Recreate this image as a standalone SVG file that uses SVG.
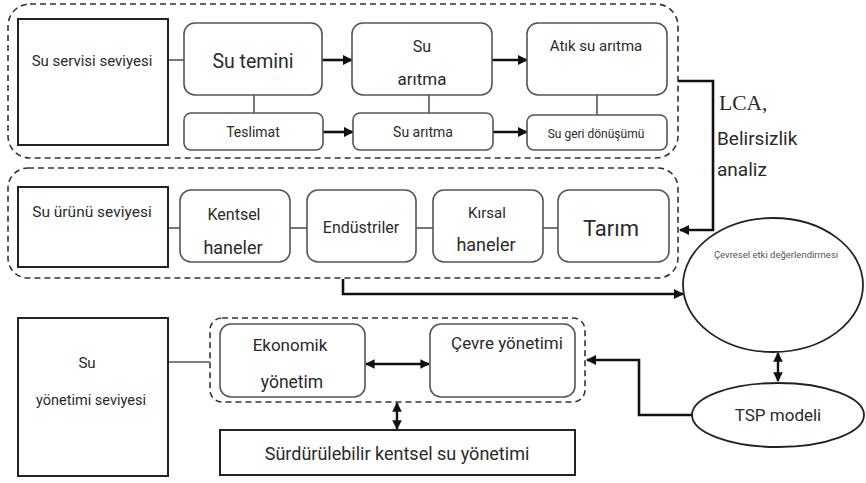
<svg xmlns="http://www.w3.org/2000/svg" width="866" height="483" viewBox="0 0 866 483">
  <defs>
    <marker id="head" viewBox="0 0 10 10" refX="9" refY="5" markerWidth="4" markerHeight="4" orient="auto-start-reverse" markerUnits="strokeWidth">
      <path d="M0,0 L10,5 L0,10 z" fill="#111"/>
    </marker>
    <style>
      .level { fill: #fff; stroke: #222; stroke-width: 2; }
      .box { fill: #fff; stroke: #555; stroke-width: 1.6; }
      .group { fill: none; stroke: #333; stroke-width: 1.6; stroke-dasharray: 6 4; }
      .ell { fill: #fff; stroke: #222; stroke-width: 1.8; }
      .link { fill: none; stroke: #555; stroke-width: 1.6; }
      .flow { fill: none; stroke: #111; stroke-width: 2.6; marker-end: url(#head); }
      .both { fill: none; stroke: #111; stroke-width: 2.4; marker-start: url(#head); marker-end: url(#head); }
      text { font-family: Roboto, "Liberation Sans", sans-serif; fill: #2a2a2a; text-anchor: middle; }
      .serif { font-family: "Liberation Serif", "DejaVu Serif", serif; text-anchor: start; }
      .left { text-anchor: start; }
    </style>
  </defs>

  <!-- dashed level groups -->
  <rect class="group" x="8" y="4" width="670" height="154" rx="22"/>
  <rect class="group" x="8" y="168" width="670" height="110" rx="20"/>
  <rect class="group" x="210" y="318" width="375" height="84" rx="12"/>

  <!-- connectors -->
  <g id="connectors">
    <line class="link" x1="168" y1="60" x2="184" y2="60"/>
    <line class="flow" x1="322" y1="60" x2="352" y2="60"/>
    <line class="flow" x1="492" y1="60" x2="527" y2="60"/>
    <line class="link" x1="254" y1="95" x2="254" y2="113"/>
    <line class="link" x1="429" y1="95" x2="429" y2="113"/>
    <line class="link" x1="597" y1="95" x2="597" y2="115"/>
    <line class="flow" x1="323" y1="132" x2="353" y2="132"/>
    <line class="flow" x1="493" y1="132" x2="527" y2="132"/>

    <line class="link" x1="168" y1="228" x2="180" y2="228"/>
    <line class="link" x1="290" y1="228" x2="307" y2="228"/>
    <line class="link" x1="416" y1="228" x2="433" y2="228"/>
    <line class="link" x1="543" y1="228" x2="558" y2="228"/>

    <!-- LCA loop from service level to product level -->
    <polyline class="flow" points="678,81 713,81 713,230 680,230"/>
    <!-- product level to impact assessment -->
    <polyline class="flow" points="343,279 343,294 683,294"/>
    <!-- impact assessment <-> TSP model -->
    <line class="both" x1="778" y1="353" x2="778" y2="381"/>
    <!-- TSP model to environmental management -->
    <polyline class="flow" points="692,415 639,415 639,360 587,360"/>

    <line class="link" x1="168" y1="362" x2="210" y2="362"/>
    <line class="both" x1="366" y1="364" x2="429" y2="364"/>
    <line class="both" x1="397" y1="403" x2="397" y2="429"/>
  </g>

  <!-- service level -->
  <g id="su-servisi-seviyesi">
    <rect class="level" x="18" y="19" width="150" height="126"/>
    <text x="92" y="66" font-size="15">Su servisi seviyesi</text>
  </g>
  <g id="su-temini">
    <rect class="box" x="184" y="23" width="138" height="72" rx="11"/>
    <text x="253" y="68" font-size="19.5">Su temini</text>
  </g>
  <g id="su-aritma">
    <rect class="box" x="352" y="23" width="140" height="72" rx="11"/>
    <text x="422" y="52" font-size="16">Su</text>
    <text x="422" y="85" font-size="17">arıtma</text>
  </g>
  <g id="atik-su-aritma">
    <rect class="box" x="527" y="23" width="140" height="72" rx="11"/>
    <text x="596" y="51" font-size="15">Atık su arıtma</text>
  </g>
  <g id="teslimat">
    <rect class="box" x="184" y="113" width="139" height="37" rx="7"/>
    <text x="253" y="137" font-size="14">Teslimat</text>
  </g>
  <g id="su-aritma-2">
    <rect class="box" x="353" y="113" width="140" height="37" rx="7"/>
    <text x="423" y="137" font-size="14">Su arıtma</text>
  </g>
  <g id="su-geri-donusumu">
    <rect class="box" x="527" y="115" width="140" height="35" rx="7"/>
    <text x="596" y="138" font-size="12">Su geri dönüşümü</text>
  </g>

  <!-- analysis label -->
  <g id="lca-label">
    <text class="serif" x="719" y="110" font-size="21.5">LCA,</text>
    <text class="left" x="717" y="145" font-size="19">Belirsizlik</text>
    <text class="left" x="717" y="176" font-size="19">analiz</text>
  </g>

  <!-- product level -->
  <g id="su-urunu-seviyesi">
    <rect class="level" x="18" y="187" width="150" height="80"/>
    <text x="92" y="217" font-size="15.5">Su ürünü seviyesi</text>
  </g>
  <g id="kentsel-haneler">
    <rect class="box" x="180" y="190" width="110" height="72" rx="11"/>
    <text x="234" y="220" font-size="16">Kentsel</text>
    <text x="233" y="254" font-size="18">haneler</text>
  </g>
  <g id="endustriler">
    <rect class="box" x="307" y="190" width="109" height="72" rx="11"/>
    <text x="361" y="233" font-size="16">Endüstriler</text>
  </g>
  <g id="kirsal-haneler">
    <rect class="box" x="433" y="190" width="110" height="72" rx="11"/>
    <text x="487" y="218" font-size="15">Kırsal</text>
    <text x="486" y="251" font-size="18">haneler</text>
  </g>
  <g id="tarim">
    <rect class="box" x="558" y="190" width="111" height="72" rx="11"/>
    <text x="611" y="236" font-size="22">Tarım</text>
  </g>

  <!-- assessment ellipses -->
  <g id="cevresel-etki">
    <ellipse class="ell" cx="773" cy="285" rx="90" ry="67"/>
    <text x="776" y="258" font-size="9.5" style="fill:#555">Çevresel etki değerlendirmesi</text>
  </g>
  <g id="tsp-modeli">
    <ellipse class="ell" cx="778" cy="415" rx="86" ry="32"/>
    <text x="778" y="421" font-size="17">TSP modeli</text>
  </g>

  <!-- management level -->
  <g id="su-yonetimi-seviyesi">
    <rect class="level" x="18" y="318" width="150" height="158"/>
    <text x="87" y="368" font-size="15">Su</text>
    <text x="91" y="405" font-size="14.5">yönetimi seviyesi</text>
  </g>
  <g id="ekonomik-yonetim">
    <rect class="box" x="220" y="324" width="145" height="73" rx="11"/>
    <text x="290" y="351" font-size="17">Ekonomik</text>
    <text x="292" y="388" font-size="17.5">yönetim</text>
  </g>
  <g id="cevre-yonetimi">
    <rect class="box" x="430" y="324" width="145" height="73" rx="11"/>
    <text x="507" y="349" font-size="17">Çevre yönetimi</text>
  </g>
  <g id="surdurulebilir">
    <rect class="level" x="220" y="430" width="355" height="45"/>
    <text x="397" y="460" font-size="18">Sürdürülebilir kentsel su yönetimi</text>
  </g>
</svg>
